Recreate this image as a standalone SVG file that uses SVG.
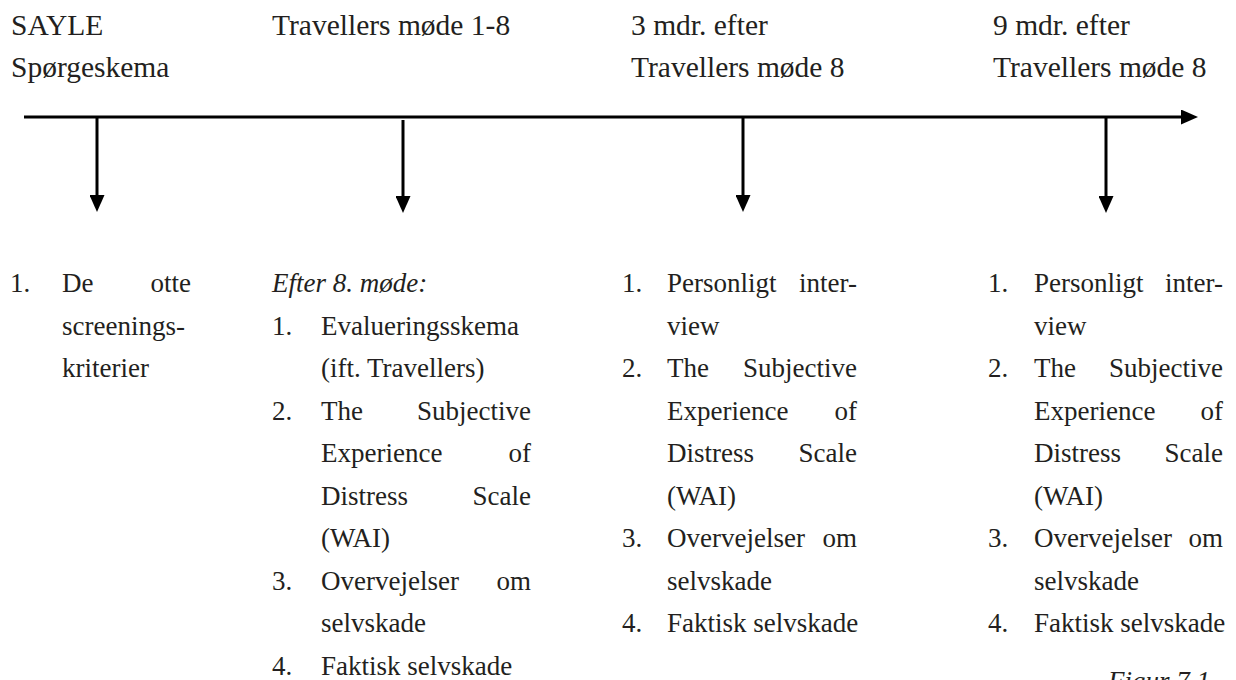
<svg xmlns="http://www.w3.org/2000/svg" width="1236" height="680" viewBox="0 0 1236 680">
<defs>
<style>
text{font-family:"Liberation Serif","Times New Roman",serif;font-size:27px;fill:#231f20}
.hd{font-size:29.5px}
.it{font-style:italic}
.r{text-anchor:end}
.ln{stroke:#000;stroke-width:3;fill:none}
</style>
<marker id="ah" viewBox="0 0 17 15" refX="2" refY="7.5" markerWidth="17" markerHeight="15" markerUnits="userSpaceOnUse" orient="auto">
<path d="M0,0 L17,7.5 L0,15 z" fill="#000"/>
</marker>
</defs>
<rect width="1236" height="680" fill="#fff"/>
<g id="connectors">
<line class="ln" x1="24" y1="117" x2="1183" y2="117" marker-end="url(#ah)"/>
<line class="ln" x1="97" y1="117" x2="97" y2="197" marker-end="url(#ah)"/>
<line class="ln" x1="403" y1="120" x2="403" y2="198" marker-end="url(#ah)"/>
<line class="ln" x1="743" y1="117" x2="743" y2="197" marker-end="url(#ah)"/>
<line class="ln" x1="1106" y1="117" x2="1106" y2="198" marker-end="url(#ah)"/>
</g>
<g id="label-sayle">
<text class="hd" x="11" y="35">SAYLE</text>
<text class="hd" x="11" y="77">Spørgeskema</text>
</g>
<g id="label-travellers">
<text class="hd" x="272" y="35">Travellers møde 1-8</text>
</g>
<g id="label-3mdr">
<text class="hd" x="631" y="35">3 mdr. efter</text>
<text class="hd" x="631" y="77">Travellers møde 8</text>
</g>
<g id="label-9mdr">
<text class="hd" x="993" y="35">9 mdr. efter</text>
<text class="hd" x="993" y="77">Travellers møde 8</text>
</g>
<g id="list-1">
<text x="10" y="292">1.</text>
<text x="62" y="292">De</text><text class="r" x="191" y="292">otte</text>
<text x="62" y="334.5">screenings-</text>
<text x="62" y="377">kriterier</text>
</g>
<g id="list-2">
<text class="it" x="272" y="292">Efter 8. møde:</text>
<text x="272" y="334.5">1.</text><text x="321" y="334.5">Evalueringsskema</text>
<text x="321" y="377">(ift. Travellers)</text>
<text x="272" y="419.5">2.</text><text x="321" y="419.5">The</text><text class="r" x="531" y="419.5">Subjective</text>
<text x="321" y="462">Experience</text><text class="r" x="531" y="462">of</text>
<text x="321" y="504.5">Distress</text><text class="r" x="531" y="504.5">Scale</text>
<text x="321" y="547">(WAI)</text>
<text x="272" y="589.5">3.</text><text x="321" y="589.5">Overvejelser</text><text class="r" x="531" y="589.5">om</text>
<text x="321" y="632">selvskade</text>
<text x="272" y="674.5">4.</text><text x="321" y="674.5">Faktisk selvskade</text>
</g>
<g id="list-3">
<text x="622" y="292">1.</text><text x="667" y="292">Personligt</text><text class="r" x="857" y="292">inter-</text>
<text x="667" y="334.5">view</text>
<text x="622" y="377">2.</text><text x="667" y="377">The</text><text class="r" x="857" y="377">Subjective</text>
<text x="667" y="419.5">Experience</text><text class="r" x="857" y="419.5">of</text>
<text x="667" y="462">Distress</text><text class="r" x="857" y="462">Scale</text>
<text x="667" y="504.5">(WAI)</text>
<text x="622" y="547">3.</text><text x="667" y="547">Overvejelser</text><text class="r" x="857" y="547">om</text>
<text x="667" y="589.5">selvskade</text>
<text x="622" y="632">4.</text><text x="667" y="632">Faktisk selvskade</text>
</g>
<g id="list-4">
<text x="988" y="292">1.</text><text x="1034" y="292">Personligt</text><text class="r" x="1223" y="292">inter-</text>
<text x="1034" y="334.5">view</text>
<text x="988" y="377">2.</text><text x="1034" y="377">The</text><text class="r" x="1223" y="377">Subjective</text>
<text x="1034" y="419.5">Experience</text><text class="r" x="1223" y="419.5">of</text>
<text x="1034" y="462">Distress</text><text class="r" x="1223" y="462">Scale</text>
<text x="1034" y="504.5">(WAI)</text>
<text x="988" y="547">3.</text><text x="1034" y="547">Overvejelser</text><text class="r" x="1223" y="547">om</text>
<text x="1034" y="589.5">selvskade</text>
<text x="988" y="632">4.</text><text x="1034" y="632">Faktisk selvskade</text>
</g>
<g id="caption">
<text class="it" x="1108" y="690">Figur 7.1</text>
</g>
</svg>
